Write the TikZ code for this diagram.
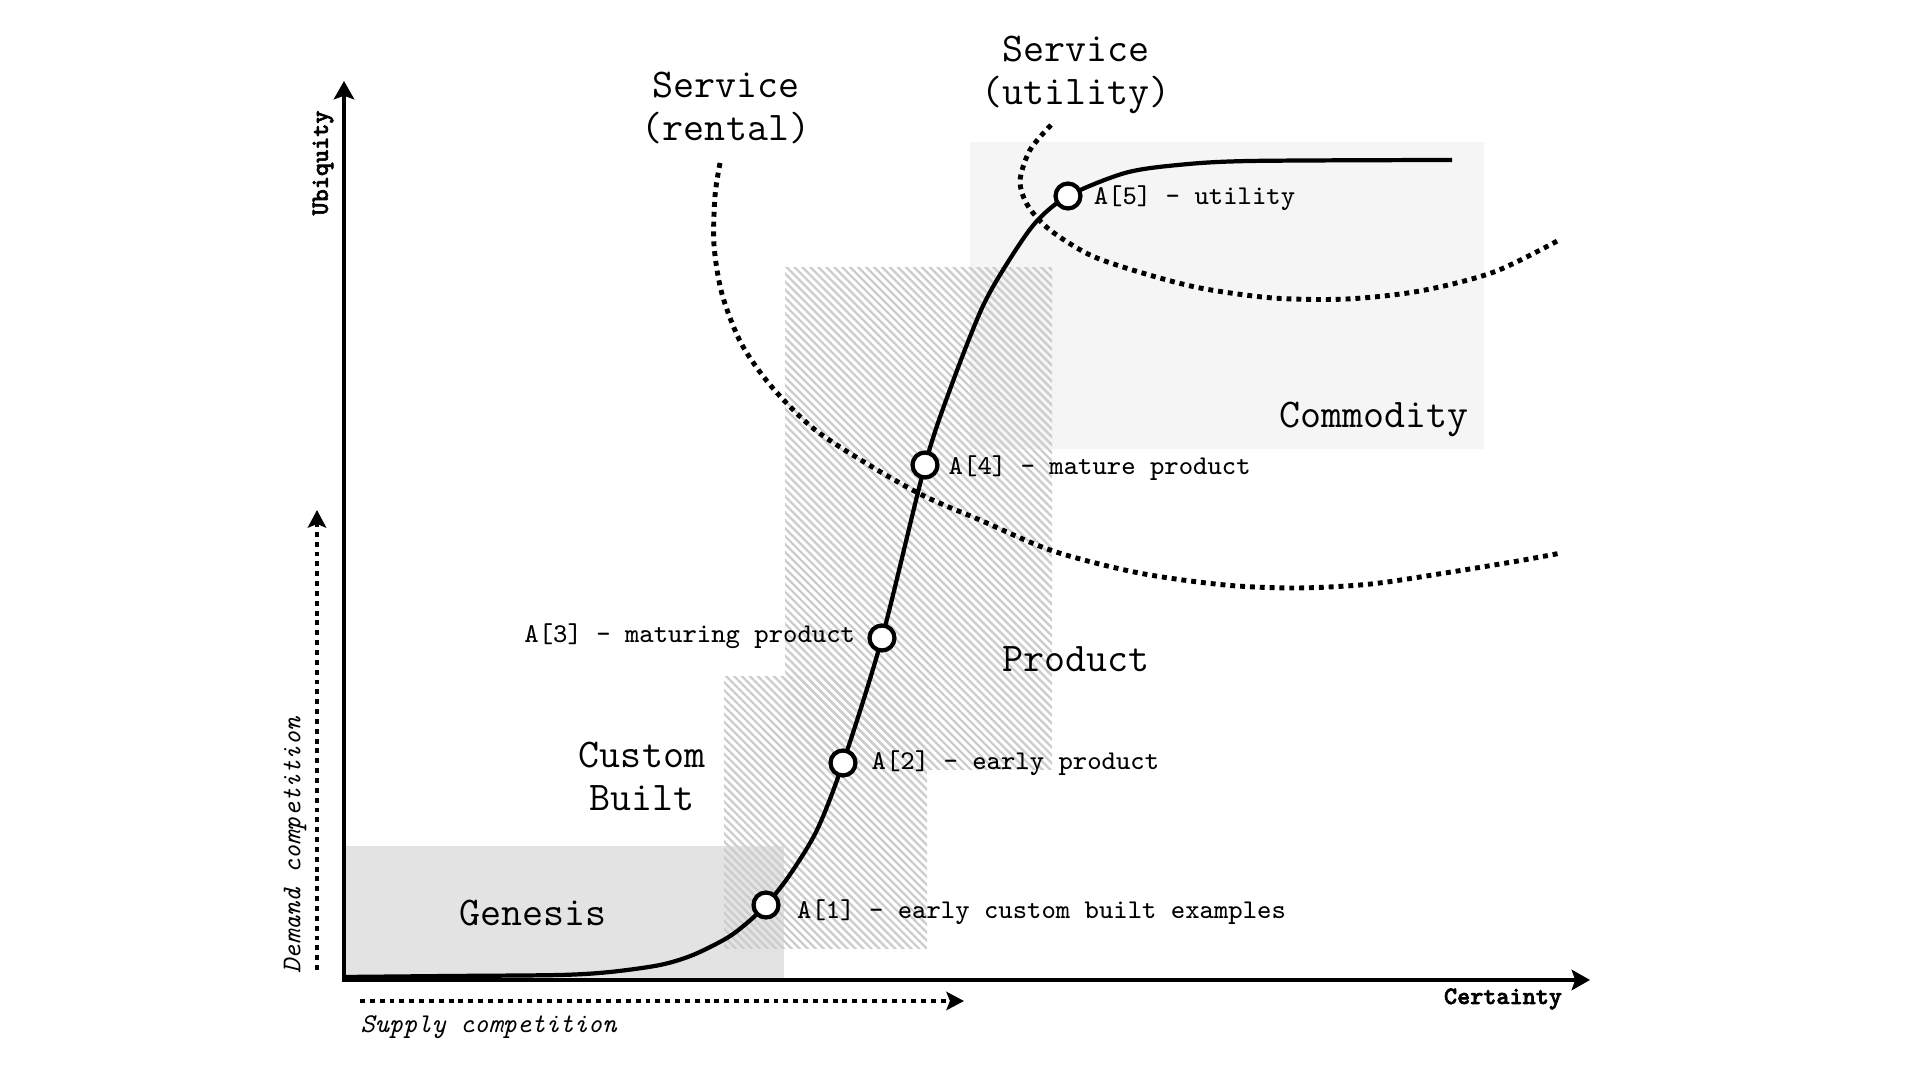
\documentclass[tikz,border=0pt]{standalone}
\usepackage{fontspec}
\newfontfamily\axisfont[FakeBold=2.5]{lmmonolt10-bold.otf}
\usetikzlibrary{arrows.meta, patterns.meta, positioning}

\begin{document}
\begin{tikzpicture} [x=0.01cm, y=-0.01cm,
            axis/.style = {line width=1.3pt,
                {Stealth[length=5.2pt, width=5.8pt, inset=1pt]}-{Stealth[length=5.2pt, width=5.8pt, inset=1pt]}},
            dots/.style = {line width=1.4pt, dash pattern=on 1.4pt off 1.4pt},
            hatch/.style = {pattern={Lines[angle=-45, distance=1.6pt, line width=0.65pt]},
                pattern color=black!20},
            stage/.style = {font=\ttfamily\fontsize{11.6}{12.2}\selectfont, align=center},
            evo/.style = {circle, draw, fill=white, line width=1.2pt,
                minimum size=7.1pt, inner sep=0pt},
            lbl/.style = {font=\ttfamily\fontsize{7.7}{9}\selectfont, inner sep=0pt},
            axlbl/.style = {font=\axisfont\fontsize{7.1}{8}\selectfont, inner sep=0pt},
            side/.style = {font=\ttfamily\itshape\fontsize{7.7}{9}\selectfont, inner sep=0pt}]

        \useasboundingbox (0,0) rectangle (1920,1080);

        % Stage areas
        \fill [black!4] (970,142) rectangle (1484,449);
        \fill [black!11] (344,846) rectangle (784,980);
        \path [hatch] (724,677) rectangle (927,949);
        \path [hatch] (785,268) rectangle (1052,770);

        % Stage names
        \node (genesis) [stage] at (533,913) {Genesis};
        \node (custom) [stage] at (642,776) {Custom\\Built};
        \node (product) [stage] at (1076,659) {Product};
        \node (commodity) [stage] at (1374,419) {Commodity};
        \node (rental) [stage] at (726,108) {Service\\(rental)};
        \node (utility) [stage] at (1076,75) {Service\\(utility)};

        % Service boundaries
        \draw [dots] plot [smooth, tension=0.5] coordinates {(720,163) (715,196) (714,245)
            (722,294) (741,343) (771,386) (814,429) (869,465) (924,496) (980,520)
            (1053,551) (1139,573) (1225,585) (1298,588) (1371,584) (1445,573)
            (1518,561) (1561,553)};
        \draw [dots] plot [smooth, tension=0.5] coordinates {(1051,125) (1030,150)
            (1020,181) (1028,206) (1050,230) (1090,255) (1139,272) (1200,288)
            (1273,298) (1347,299) (1420,291) (1494,272) (1561,239)};

        % Axes
        \coordinate (origin) at (344,980);
        \coordinate (ytop) at (344,81);
        \coordinate (xend) at (1590,980);
        \draw [axis] (ytop) -- (origin) -- (xend);
        \node (ubiquity) [axlbl, rotate=90] at (323,163) {Ubiquity};
        \node (certainty) [axlbl] at (1503,999) {Certainty};

        % Competition arrows
        \coordinate (d0) at (317,970);
        \coordinate (d1) at (317,510);
        \coordinate (s0) at (360,1001);
        \coordinate (s1) at (964,1001);
        \draw [dots, -{Stealth[length=5pt, width=5.2pt, inset=1pt]}] (d0) -- (d1);
        \draw [dots, -{Stealth[length=5pt, width=5.2pt, inset=1pt]}] (s0) -- (s1);
        \node (demand) [side, rotate=90, anchor=west] at (295,974) {Demand competition};
        \node (supply) [side, anchor=west] at (360,1027) {Supply competition};

        % Evolution curve
        \coordinate (p1) at (766,905);
        \coordinate (p2) at (843,763);
        \coordinate (p3) at (882,638);
        \coordinate (p4) at (925,465);
        \coordinate (p5) at (1068,196);
        \draw [line width=1.2pt] plot [smooth, tension=0.5] coordinates {(344,977)
            (450,976) (560,975) (610,972) (660,965) (693,955) (727,938) (747,923) (p1)
            (789,876) (817,830) (p2) (p3) (p4) (952,384) (982,308) (1008,262)
            (1036,222) (p5) (1125,173) (1178,165) (1250,161) (1452,160)};

        % Components
        \node (a1) [evo] at (p1) {};
        \node (a2) [evo] at (p2) {};
        \node (a3) [evo] at (p3) {};
        \node (a4) [evo] at (p4) {};
        \node (a5) [evo] at (p5) {};

        \node (l1) [lbl, right=4.5pt of a1, yshift=-2pt] {A[1] - early custom built examples};
        \node (l2) [lbl, right=3.8pt of a2] {A[2] - early product};
        \node (l3) [lbl, left=3.3pt of a3, yshift=0.5pt] {A[3] - maturing product};
        \node (l4) [lbl, right=2.4pt of a4, yshift=-1pt] {A[4] - mature product};
        \node (l5) [lbl, right=3pt of a5, yshift=-0.5pt] {A[5] - utility};
\end{tikzpicture}
\end{document}
